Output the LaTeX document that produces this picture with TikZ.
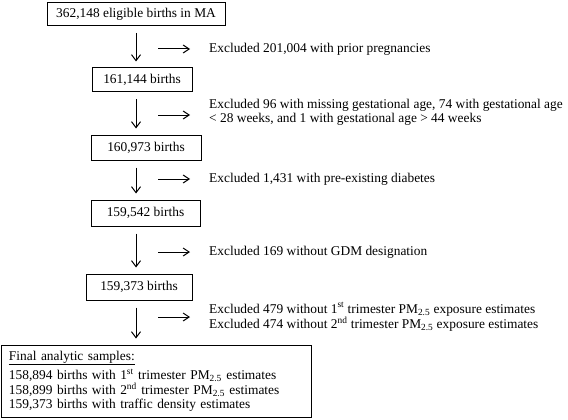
\documentclass[tikz,border=0pt]{standalone}
\usepackage{fontspec}
\setmainfont{Liberation Serif}
\usetikzlibrary{arrows.meta}
\tikzset{
  countbox/.style={draw, line width=1pt, inner sep=0pt, font=\fontsize{13.4}{14}\selectfont},
  excltext/.style={anchor=west, align=left, inner sep=0pt, font=\fontsize{13.4}{14.5}\selectfont},
  vflow/.style={-{Straight Barb[length=6pt,width=9pt]}, line width=1pt, shorten <=7pt, shorten >=6pt},
  hflow/.style={-{Straight Barb[length=6pt,width=8pt]}, line width=1pt}
}

\begin{document}
\begin{tikzpicture}[x=1pt, y=-1pt]
  \useasboundingbox (0,0) rectangle (568,420);
  % counts
  \node[countbox, minimum width=178pt, minimum height=23pt] (b1) at (136,14) {362,148 eligible births in MA};
  \node[countbox, minimum width=100pt, minimum height=24pt] (b2) at (142,80) {161,144 births};
  \node[countbox, minimum width=110pt, minimum height=25pt] (b3) at (146,147.5) {160,973 births};
  \node[countbox, minimum width=109pt, minimum height=26pt] (b4) at (145.5,213) {159,542 births};
  \node[countbox, minimum width=106pt, minimum height=26pt] (b5) at (139,287) {159,373 births};
  \node[countbox, text width=294pt, inner xsep=8pt, minimum height=72pt, align=left, font=\fontsize{13.4}{13.4}\selectfont] (b6) at (156,381) {\underline{Final analytic samples:}\\[3pt]
    158,894 births with 1\textsuperscript{st} trimester PM\textsubscript{2.5} estimates\\
    158,899 births with 2\textsuperscript{nd} trimester PM\textsubscript{2.5} estimates\\
    159,373 births with traffic density estimates};
  % exclusions
  \node[excltext] (e1) at (209,49) {Excluded 201,004 with prior pregnancies};
  \node[excltext] (e2) at (209,112.5) {Excluded 96 with missing gestational age, 74 with gestational age\\
    < 28 weeks, and 1 with gestational age > 44 weeks};
  \node[excltext] (e3) at (209,179) {Excluded 1,431 with pre-existing diabetes};
  \node[excltext] (e4) at (209,252) {Excluded 169 without GDM designation};
  \node[excltext] (e5) at (209,317) {Excluded 479 without 1\textsuperscript{st} trimester PM\textsubscript{2.5} exposure estimates\\
    Excluded 474 without 2\textsuperscript{nd} trimester PM\textsubscript{2.5} exposure estimates};
  \coordinate (ax) at (136,0);
  \draw[vflow] (b1.south -| ax) -- (b2.north -| ax);
  \draw[vflow] (b2.south -| ax) -- (b3.north -| ax);
  \draw[vflow] (b3.south -| ax) -- (b4.north -| ax);
  \draw[vflow] (b4.south -| ax) -- (b5.north -| ax);
  \draw[vflow] (b5.south -| ax) -- (b6.north -| ax);
  \draw[hflow] ([xshift=-51pt]e1.west) -- ([xshift=-19pt]e1.west);
  \draw[hflow] ([xshift=-51pt, yshift=-2.5pt]e2.west) -- ([xshift=-19pt, yshift=-2.5pt]e2.west);
  \draw[hflow] ([xshift=-51pt]e3.west) -- ([xshift=-19pt]e3.west);
  \draw[hflow] ([xshift=-51pt]e4.west) -- ([xshift=-19pt]e4.west);
  \draw[hflow] ([xshift=-51pt]e5.west) -- ([xshift=-19pt]e5.west);
\end{tikzpicture}
\end{document}
